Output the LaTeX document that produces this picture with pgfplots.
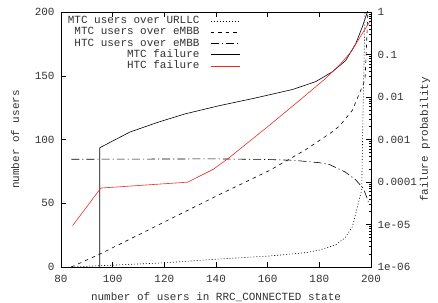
\documentclass[border=0pt]{standalone}
\usepackage{pgfplots}
\pgfplotsset{compat=1.18}
\usepackage{fontspec}
\setmainfont{Liberation Mono}
\usetikzlibrary{calc}
\definecolor{htcred}{RGB}{240,40,40}
\definecolor{txt}{RGB}{50,50,50}
\begin{document}
\begin{tikzpicture}
\pgfplotsset{
  every axis/.append style={
    font=\fontsize{11}{13}\selectfont,
    scale only axis, width=310bp, height=255bp,
    xmin=80, xmax=200,
    major tick length=5bp, minor tick length=2.5bp,
    tick style={black, line width=0.5pt},
    /pgf/number format/assume math mode=true,
    tick label style={text=txt},
    label style={text=txt},
  },
}
\begin{axis}[name=L,
  ymin=0, ymax=200,
  ytick={0,50,100,150,200},
  xtick={80,100,120,140,160,180,200},
  ytick pos=left, xtick pos=both,
  axis line style={line width=0.8pt},
  xticklabel style={yshift=-5bp},
  yticklabel style={xshift=-3bp},
  xlabel={number of users in RRC\_CONNECTED state},
  ylabel={number of users},
  xlabel style={at={(axis description cs:0.5,-0.118)}, anchor=center},
  ylabel style={at={(axis description cs:-0.148,0.5)}, anchor=center},
  legend cell align=right, legend plot pos=right,
  legend style={draw=none, fill=none, at={(axis description cs:0.012,0.992)}, anchor=north west,
    nodes={inner sep=0pt, text height=7.5pt, text depth=2pt, text=txt}, row sep=1.8pt},
  legend image code/.code={\path (0bp,0bp); \draw[#1] (11bp,0bp) -- (40bp,0bp);},
]
\addplot[black, line width=0.6pt, dash pattern=on 1pt off 2pt] coordinates {
(84,0)(95,1)(106,2)(121,3.4)(141.5,6.3)(160.5,8.6)(175,11.3)(180,13.3)(186.3,17.3)(190,23)(192.8,31.6)(195.4,52.5)(196.4,60.4)(197,131)(197.7,200)};
\addlegendentry{MTC users over URLLC}
\addplot[black, line width=0.6pt, dash pattern=on 3.5pt off 4pt] coordinates {
(84,0)(95.4,10.5)(141,56.5)(161,76)(174.7,92)(185,106)(188,111)(192.8,123)(196.6,141.4)(197.7,147)(198.8,200)};
\addlegendentry{MTC users over eMBB}
\addplot[black, line width=0.6pt, dash pattern=on 8pt off 3pt on 1.2pt off 3pt] coordinates {
(84,84.5)(140,84.8)(160,84.3)(170,83.7)(180,81.8)(184,80.3)(190,74.5)(194,68.5)(197,61.7)(198.3,55)(199.3,49)};
\addlegendentry{HTC users over eMBB}
\addlegendimage{black, line width=0.6pt}
\addlegendentry{MTC failure}
\addlegendimage{htcred, line width=0.6pt}
\addlegendentry{HTC failure}
\end{axis}
\begin{axis}[
  ymode=log, ymin=1e-6, ymax=1,
  axis x line=none, axis y line*=right,
  axis line style={line width=0.8pt},
  ytick={1e-6,1e-5,1e-4,1e-3,1e-2,1e-1,1},
  yticklabels={1e-06,1e-05,0.0001,0.001,0.01,0.1,1},
  yticklabel style={xshift=3bp},
  ylabel={failure probability},
  ylabel style={at={(axis description cs:1.174,0.5)}, anchor=center},
]
\addplot[black, line width=0.6pt] coordinates {
(95,1e-9)(95,6.4e-4)(106.7,1.5e-3)(118,2.6e-3)(128,4.0e-3)(141,6.2e-3)(155,9.4e-3)(169.6,1.5e-2)(178.6,2.3e-2)(185,3.9e-2)(190.2,7.2e-2)(194.1,0.18)(196.6,0.44)(198.6,1.0)(199,1.5)};
\addplot[htcred, line width=0.6pt] coordinates {
(84.5,9.4e-6)(95.4,7.2e-5)(129,9.9e-5)(139,2.0e-4)(145,3.7e-4)(160,2.0e-3)(172,8.0e-3)(182,2.6e-2)(188,5.8e-2)(192.5,0.12)(195.8,0.26)(199.4,0.575)};
\end{axis}
\pgfresetboundingbox
\path[use as bounding box] ($(L.south west)+(-61bp,-36bp)$) rectangle ($(L.north east)+(67bp,12bp)$);
\end{tikzpicture}
\end{document}
